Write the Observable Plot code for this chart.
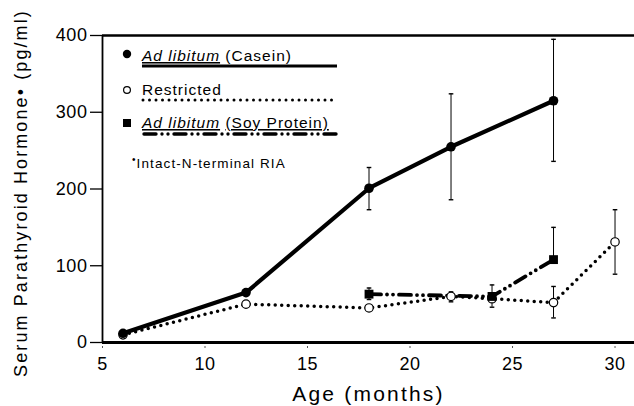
<!DOCTYPE html>
<html><head><meta charset="utf-8">
<script src="https://cdn.jsdelivr.net/npm/d3@7"></script>
<script src="https://cdn.jsdelivr.net/npm/@observablehq/plot@0.6"></script>
<style>
body{margin:0;background:#fff}
#wrap{position:relative;width:634px;height:406px;font-family:"Liberation Sans",Arial,Helvetica,sans-serif}
#legend{position:absolute;left:0;top:0;pointer-events:none}
</style>
</head><body><div id="wrap"></div>
<script>
// ---- data ----
const caseinMonths = [6, 12, 18, 22, 27];
const caseinPTH    = [12, 65, 201, 255, 315];
const caseinLow    = [12, 65, 173, 186, 236];
const caseinHigh   = [12, 65, 228, 324, 395];

const restrictedMonths = [6, 12, 18, 22, 24, 27, 30];
const restrictedPTH    = [10, 50, 45, 60, 57, 52, 131];
const restrictedLow    = [10, 50, 45, 53, 57, 32, 89];
const restrictedHigh   = [10, 50, 45, 66, 57, 73, 173];

const soyMonths = [18, 24, 27];
const soyPTH    = [63, 60, 108];
const soyLow    = [56, 46, 108];
const soyHigh   = [71, 75, 150];

const xTicks = [5, 10, 15, 20, 25, 30];
const yTicks = [0, 100, 200, 300, 400];
const xLabel = "Age (months)";
const yLabel = "Serum Parathyroid Hormone\u2022 (pg/ml)";

// ---- build tables ----
const rows = (m, v, lo, hi) => m.map((x, i) => ({x, y: v[i], lo: lo[i], hi: hi[i]}));
const casein = rows(caseinMonths, caseinPTH, caseinLow, caseinHigh);
const restricted = rows(restrictedMonths, restrictedPTH, restrictedLow, restrictedHigh);
const soy = rows(soyMonths, soyPTH, soyLow, soyHigh);
const errs = [...casein, ...restricted, ...soy].filter(d => d.hi > d.lo);
const errHi = errs.filter(d => d.hi > d.y);
const errLo = errs.filter(d => d.lo < d.y);

const cap = {draw(ctx, size) {const w = Math.sqrt(size) / 2; ctx.moveTo(-w, 0); ctx.lineTo(w, 0);}};
const FONT = '"Liberation Sans",Arial,Helvetica,sans-serif';
const DOTTED = "0,6.5";
const DASHDOT = "12,6,0,6,0,6";

const plot = Plot.plot({
  width: 634, height: 406,
  marginLeft: 102, marginRight: 0, marginTop: 35, marginBottom: 64,
  style: {fontFamily: FONT, fontSize: "18px", color: "black", background: "white"},
  x: {domain: [5, 30.95]},
  y: {domain: [0, 400]},
  marks: [
    Plot.axisX({ticks: xTicks, tickSize: 6, tickPadding: 9, fontSize: 18, label: null, stroke: "#555", strokeDasharray: "2,2"}),
    Plot.axisY({ticks: yTicks, tickSize: 12, tickPadding: 3, fontSize: 18, label: null, strokeWidth: 1.3}),
    Plot.ruleY([400], {stroke: "black", strokeWidth: 2.5}),
    Plot.ruleY([0], {stroke: "black", strokeWidth: 3}),
    Plot.ruleX([5], {stroke: "black", strokeWidth: 1.8}),
    Plot.text([xLabel], {frameAnchor: "bottom", lineAnchor: "bottom", dy: 58, fontSize: 21, text: d => d}),
    Plot.text([yLabel], {frameAnchor: "left", dx: -81, dy: 4, rotate: -90, textAnchor: "middle", lineAnchor: "middle", fontSize: 18, text: d => d}),
    // lines
    Plot.line(restricted, {x: "x", y: "y", stroke: "black", strokeWidth: 3.5, strokeDasharray: DOTTED, strokeLinecap: "round"}),
    Plot.line(soy, {x: "x", y: "y", stroke: "black", strokeWidth: 3.8, strokeDasharray: DASHDOT, strokeLinecap: "round"}),
    Plot.line(casein, {x: "x", y: "y", stroke: "black", strokeWidth: 4.2}),
    // error bars
    Plot.ruleX(errHi, {x: "x", y1: "y", y2: "hi", stroke: "black", strokeWidth: 1}),
    Plot.ruleX(errLo, {x: "x", y1: "lo", y2: "y", stroke: "black", strokeWidth: 1}),
    Plot.dot(errHi, {x: "x", y: "hi", symbol: cap, r: 2.6, stroke: "black", strokeWidth: 1.4}),
    Plot.dot(errLo, {x: "x", y: "lo", symbol: cap, r: 2.6, stroke: "black", strokeWidth: 1.4}),
    // markers
    Plot.dot(restricted, {x: "x", y: "y", r: 4.2, fill: "white", stroke: "black", strokeWidth: 1.2}),
    Plot.dot(soy, {x: "x", y: "y", r: 5, symbol: "square", fill: "black"}),
    Plot.dot(casein, {x: "x", y: "y", r: 4.8, fill: "black"})
  ]
});
plot.querySelectorAll('g[aria-label="text"] text').forEach(t => t.setAttribute("letter-spacing", t.textContent === xLabel ? "2.2" : "2.1"));
plot.querySelectorAll('g[aria-label="y-axis tick label"] text, g[aria-label="x-axis tick label"] text').forEach(t => t.setAttribute("letter-spacing", "0.6"));

const wrap = document.getElementById("wrap");
wrap.appendChild(plot);

// ---- legend overlay ----
const ns = "http://www.w3.org/2000/svg";
const lg = document.createElementNS(ns, "svg");
lg.setAttribute("id", "legend");
lg.setAttribute("width", 634); lg.setAttribute("height", 406);
lg.innerHTML = `
<g font-family='${FONT}' font-size="15.5" letter-spacing="1" fill="black">
  <circle cx="127" cy="54" r="4.2" fill="black"/>
  <text x="142" y="61"><tspan font-style="italic" text-decoration="underline">Ad libitum</tspan> (Casein)</text>
  <line x1="142" x2="337" y1="66" y2="66" stroke="black" stroke-width="3"/>
  <circle cx="127" cy="90" r="3.4" fill="white" stroke="black" stroke-width="1.2"/>
  <text x="142" y="95">Restricted</text>
  <line x1="143" x2="337" y1="100" y2="100" stroke="black" stroke-width="3" stroke-dasharray="${DOTTED}" stroke-linecap="round"/>
  <rect x="123" y="119" width="8" height="8" fill="black"/>
  <text x="142" y="128"><tspan font-style="italic" text-decoration="underline">Ad libitum</tspan> <tspan text-decoration="underline">(Soy Protein)</tspan></text>
  <line x1="144" x2="337" y1="134" y2="134" stroke="black" stroke-width="3.4" stroke-dasharray="${DASHDOT}" stroke-linecap="round"/>
  <text x="132" y="168" font-size="13.5" letter-spacing="1.1"><tspan font-size="10" dy="-5">\u2022</tspan><tspan dy="5">Intact-N-terminal RIA</tspan></text>
</g>`;
wrap.appendChild(lg);
</script>
</body></html>
